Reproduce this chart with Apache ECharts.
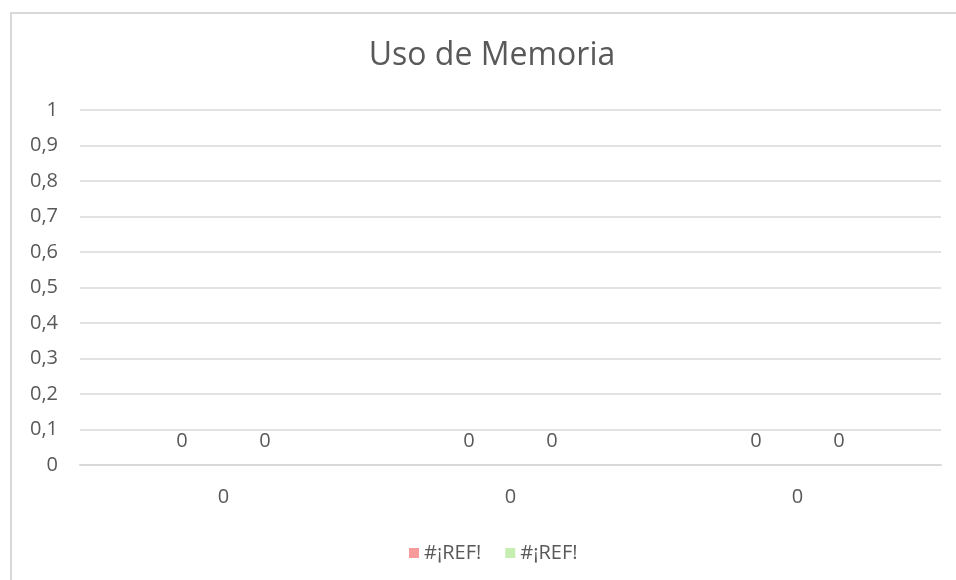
<!DOCTYPE html>
<html>
<head>
<meta charset="utf-8">
<script src="https://cdn.jsdelivr.net/npm/echarts@6/dist/echarts.min.js"></script>
<style>
  html, body { margin: 0; padding: 0; background: #fff; }
  #chart { width: 956px; height: 580px; }
</style>
</head>
<body>
<div id="chart"></div>
<script>
  // datos
  var categorias = ['0', '0', '0'];
  var serieA = [0, 0, 0];
  var serieB = [0, 0, 0];
  var nombres = ['#¡REF!', '#¡REF!'];

  var fuente = '"Open Sans", "Noto Sans", sans-serif';
  var gris = '#595959';

  var chart = echarts.init(document.getElementById('chart'));

  var etiqueta = {
    show: true,
    position: 'top',
    distance: 14,
    color: gris,
    fontSize: 20,
    fontFamily: fuente
  };

  var option = {
    animation: false,
    color: ['#f79a9a', '#c5eeb0'],
    title: {
      text: 'Uso de Memoria',
      left: 487,
      textAlign: 'center',
      top: 35,
      textStyle: { color: gris, fontSize: 32, fontWeight: 'normal', fontFamily: fuente }
    },
    graphic: [{
      type: 'rect',
      shape: { x: 11, y: 13, width: 960, height: 600 },
      style: { fill: 'none', stroke: '#d9d9d9', lineWidth: 2 },
      silent: true
    }],
    legend: {
      top: 538,
      left: 404,
      itemWidth: 10,
      itemHeight: 10,
      itemGap: 24,
      icon: 'rect',
      textStyle: { color: gris, fontSize: 20, fontFamily: fuente },
      data: [{ name: nombres[0] }, { name: nombres[1] + ' ' }]
    },
    grid: { left: 80, right: 15, top: 110, bottom: 115, containLabel: false },
    xAxis: {
      type: 'category',
      data: categorias,
      axisTick: { show: false },
      axisLine: { lineStyle: { color: '#d9d9d9', width: 2 } },
      axisLabel: { color: gris, fontSize: 20, fontFamily: fuente, margin: 22 }
    },
    yAxis: {
      type: 'value',
      min: 0,
      max: 1,
      interval: 0.1,
      axisLine: { show: false },
      axisTick: { show: false },
      splitLine: { lineStyle: { color: '#d9d9d9', width: 1.5 } },
      axisLabel: {
        color: gris, fontSize: 20, fontFamily: fuente, margin: 22,
        formatter: function (v) { return String(Math.round(v * 10) / 10).replace('.', ','); }
      }
    },
    series: [
      { name: nombres[0], type: 'bar', data: serieA, barWidth: 83, barGap: '0%', label: etiqueta },
      { name: nombres[1] + ' ', type: 'bar', data: serieB, barWidth: 83, barGap: '0%', label: etiqueta }
    ]
  };

  chart.setOption(option);
</script>
</body>
</html>
